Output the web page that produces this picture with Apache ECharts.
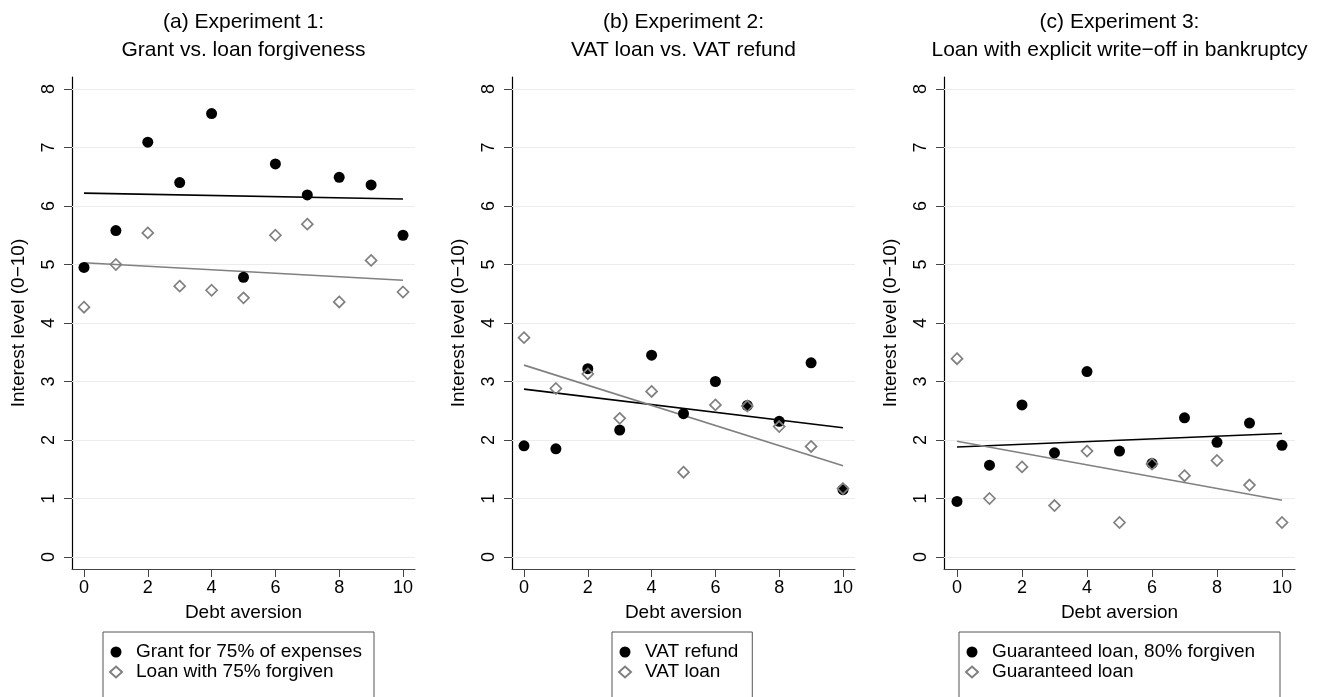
<!DOCTYPE html>
<html>
<head>
<meta charset="utf-8">
<title>Debt aversion experiments</title>
<script src="https://cdn.jsdelivr.net/npm/echarts@6/dist/echarts.min.js"></script>
<style>
  html, body { margin: 0; padding: 0; background: #fff; }
  #main { width: 1323px; height: 697px; }
</style>
</head>
<body>
<div id="main"></div>
<script>
// debt aversion score (x) shared by all panels
var debtAversion = [0, 1, 2, 3, 4, 5, 6, 7, 8, 9, 10];
var xTicks = [0, 2, 4, 6, 8, 10];
var yTicks = [0, 1, 2, 3, 4, 5, 6, 7, 8];

// (a) experiment 1
var grantA = [4.95, 5.58, 7.09, 6.40, 7.58, 4.78, 6.72, 6.19, 6.49, 6.36, 5.50];
var loanA = [4.27, 5.00, 5.54, 4.63, 4.56, 4.43, 5.50, 5.69, 4.36, 5.07, 4.53];
var fitGrantA = [6.22, 6.12];   // fitted value at x=0 and x=10
var fitLoanA = [5.03, 4.73];

// (b) experiment 2
var refundB = [1.90, 1.85, 3.22, 2.17, 3.45, 2.45, 3.00, 2.59, 2.32, 3.32, 1.15];
var loanB = [3.75, 2.88, 3.13, 2.37, 2.83, 1.45, 2.60, 2.58, 2.23, 1.89, 1.17];
var fitRefundB = [2.87, 2.21];
var fitLoanB = [3.28, 1.56];

// (c) experiment 3
var forgivenC = [0.95, 1.57, 2.60, 1.78, 3.17, 1.81, 1.60, 2.38, 1.96, 2.29, 1.91];
var loanC = [3.39, 1.00, 1.54, 0.88, 1.81, 0.59, 1.59, 1.39, 1.65, 1.23, 0.59];
var fitForgivenC = [1.88, 2.11];
var fitLoanC = [1.98, 0.97];

var FONT = 'Liberation Sans, Arial, sans-serif';
var GREY = '#808080';

var panels = [
  { title: '(a) Experiment 1:\nGrant vs. loan forgiveness',
    names: ['Grant for 75% of expenses', 'Loan with 75% forgiven'],
    solid: grantA, hollow: loanA, fitSolid: fitGrantA, fitHollow: fitLoanA,
    left: 72, width: 343, xMin: -0.376, xMax: 10.376, legendLeft: 103, legendPadRight: 12 },
  { title: '(b) Experiment 2:\nVAT loan vs. VAT refund',
    names: ['VAT refund', 'VAT loan'],
    solid: refundB, hollow: loanB, fitSolid: fitRefundB, fitHollow: fitLoanB,
    left: 512, width: 343, xMin: -0.376, xMax: 10.376, legendLeft: 612, legendPadRight: 14 },
  { title: '(c) Experiment 3:\nLoan with explicit write\u2212off in bankruptcy',
    names: ['Guaranteed loan, 80% forgiven', 'Guaranteed loan'],
    solid: forgivenC, hollow: loanC, fitSolid: fitForgivenC, fitHollow: fitLoanC,
    left: 944, width: 351, xMin: -0.4, xMax: 10.4, legendLeft: 959, legendPadRight: 25 }
];

function pairs(xs, ys) {
  return xs.map(function (x, i) { return [x, ys[i]]; });
}

var option = {
  animation: false,
  backgroundColor: '#fff',
  textStyle: { fontFamily: FONT, color: '#000' },
  grid: [], xAxis: [], yAxis: [], series: [], legend: [], graphic: []
};

panels.forEach(function (p, i) {
  option.grid.push({ left: p.left, top: 77, width: p.width, height: 492 });

  option.xAxis.push({
    gridIndex: i, type: 'value', min: p.xMin, max: p.xMax,
    name: 'Debt aversion', nameLocation: 'middle', nameGap: 34,
    nameTextStyle: { fontSize: 19, color: '#000', fontFamily: FONT },
    axisLine: { show: true, onZero: false, lineStyle: { color: '#444', width: 1.2 } },
    axisTick: { show: true, length: 8, customValues: xTicks, lineStyle: { color: '#444' } },
    axisLabel: { customValues: xTicks, fontSize: 18, color: '#000', margin: 10, fontFamily: FONT },
    splitLine: { show: false }
  });

  option.yAxis.push({
    gridIndex: i, type: 'value', min: -0.205, max: 8.205,
    name: 'Interest level (0\u221210)', nameLocation: 'middle', nameGap: 44,
    nameTextStyle: { fontSize: 19, color: '#000', fontFamily: FONT },
    axisLine: { show: true, onZero: false, lineStyle: { color: '#000', width: 1.2 } },
    axisTick: { show: true, length: 8, customValues: yTicks, lineStyle: { color: '#444' } },
    axisLabel: { customValues: yTicks, rotate: 90, fontSize: 18, color: '#000', margin: 14, fontFamily: FONT },
    splitLine: { show: false }
  });

  // light horizontal grid lines
  option.series.push({
    type: 'line', xAxisIndex: i, yAxisIndex: i, z: 1, silent: true,
    data: [[0, 0]], showSymbol: false, lineStyle: { opacity: 0 },
    markLine: {
      silent: true, z: 1, symbol: ['none', 'none'], label: { show: false },
      lineStyle: { color: '#ececec', type: 'solid', width: 1 },
      data: yTicks.map(function (v) { return { yAxis: v }; })
    }
  });

  // fitted lines
  option.series.push({
    type: 'line', xAxisIndex: i, yAxisIndex: i, z: 2, silent: true,
    showSymbol: false, lineStyle: { color: '#000', width: 1.6 },
    data: pairs([0, 10], p.fitSolid)
  });
  option.series.push({
    type: 'line', xAxisIndex: i, yAxisIndex: i, z: 2, silent: true,
    showSymbol: false, lineStyle: { color: GREY, width: 1.6 },
    data: pairs([0, 10], p.fitHollow)
  });

  // points
  option.series.push({
    name: p.names[0], type: 'scatter', xAxisIndex: i, yAxisIndex: i, z: 3,
    symbol: 'circle', symbolSize: 11,
    itemStyle: { color: '#000', opacity: 1 },
    data: pairs(debtAversion, p.solid)
  });
  option.series.push({
    name: p.names[1], type: 'scatter', xAxisIndex: i, yAxisIndex: i, z: 4,
    symbol: 'diamond', symbolSize: 11,
    itemStyle: { color: 'rgba(0,0,0,0)', borderColor: GREY, borderWidth: 1.7, opacity: 1 },
    data: pairs(debtAversion, p.hollow)
  });

  option.legend.push({
    data: p.names, orient: 'vertical', left: p.legendLeft, top: 632, height: 150,
    selectedMode: false, itemWidth: 12, itemHeight: 11, itemGap: 0,
    padding: [10, p.legendPadRight, 20, 6],
    borderColor: '#555', borderWidth: 1,
    textStyle: { fontSize: 19, lineHeight: 20, color: '#000', fontFamily: FONT, padding: [0, 0, 0, 9] }
  });

  option.graphic.push({
    type: 'text', x: p.left + p.width / 2, y: 8, silent: true,
    style: {
      text: p.title, textAlign: 'center', textVerticalAlign: 'top',
      font: '21px ' + FONT, lineHeight: 28, fill: '#000'
    }
  });
});

var chart = echarts.init(document.getElementById('main'), null, { renderer: 'canvas' });
chart.setOption(option);
</script>
</body>
</html>
